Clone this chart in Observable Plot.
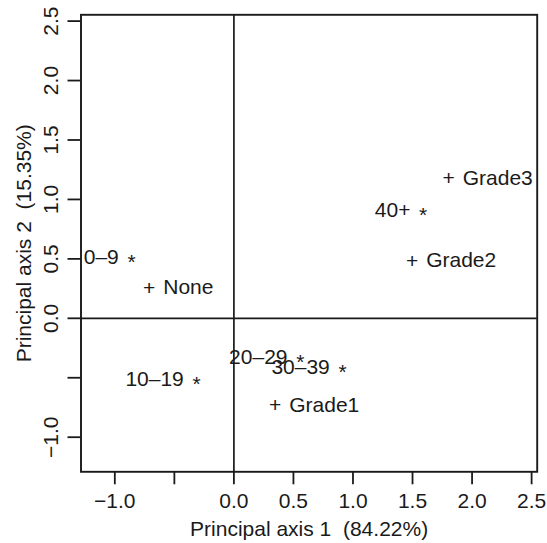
<!DOCTYPE html>
<html>
<head>
<meta charset="utf-8">
<script src="https://cdn.jsdelivr.net/npm/d3@7"></script>
<script src="https://cdn.jsdelivr.net/npm/@observablehq/plot@0.6"></script>
<style>
  html, body { margin: 0; padding: 0; background: #fff; }
  #chart { width: 547px; height: 543px; }
</style>
</head>
<body>
<div id="chart"></div>
<script>
// Row categories (age groups, drawn as "*")
const rowLabels = ["0–9", "10–19", "20–29", "30–39", "40+"];
const rowAxis1 = [-0.860, -0.314, 0.557, 0.912, 1.589];
const rowAxis2 = [0.514, -0.509, -0.327, -0.411, 0.912];

// Column categories (grades, drawn as "+")
const colLabels = ["None", "Grade1", "Grade2", "Grade3"];
const colAxis1 = [-0.711, 0.347, 1.497, 1.804];
const colAxis2 = [0.257, -0.728, 0.486, 1.182];

// Axis ticks and labels
const xTicks = [-1.0, -0.5, 0.0, 0.5, 1.0, 1.5, 2.0, 2.5];
const xTickLabels = ["−1.0", "", "0.0", "0.5", "1.0", "1.5", "2.0", "2.5"];
const yTicks = [-1.0, -0.5, 0.0, 0.5, 1.0, 1.5, 2.0, 2.5];
const yTickLabels = ["−1.0", "", "0.0", "0.5", "1.0", "1.5", "2.0", "2.5"];
const xTitle = "Principal axis 1\u00a0 (84.22%)";
const yTitle = "Principal axis 2\u00a0 (15.35%)";

const rows = rowLabels.map((label, i) => ({label, x: rowAxis1[i], y: rowAxis2[i]}));
const cols = colLabels.map((label, i) => ({label, x: colAxis1[i], y: colAxis2[i]}));
const xT = xTicks.map((v, i) => ({v, t: xTickLabels[i]}));
const yT = yTicks.map((v, i) => ({v, t: yTickLabels[i]}));

const ink = "#1a1a1a";
const fs = 21;

const chart = Plot.plot({
  width: 547,
  height: 543,
  marginLeft: 80.5,
  marginRight: 10.3,
  marginTop: 14.3,
  marginBottom: 71.7,
  style: {fontFamily: "'Liberation Sans', Arial, Helvetica, sans-serif", fontSize: fs + "px", color: ink, background: "#fff"},
  x: {domain: [-1.284, 2.547]},
  y: {domain: [-1.291, 2.553]},
  marks: [
    Plot.ruleX([0], {stroke: ink, strokeWidth: 1.7}),
    Plot.ruleY([0], {stroke: ink, strokeWidth: 1.7}),
    Plot.frame({stroke: ink, strokeWidth: 1.9}),
    Plot.axisX({ticks: xTicks, tickSize: 13, tickFormat: () => "", label: null, strokeWidth: 1.8}),
    Plot.axisY({ticks: yTicks, tickSize: 13, tickFormat: () => "", label: null, strokeWidth: 1.8}),
    Plot.text(xT, {x: "v", text: "t", frameAnchor: "bottom", dy: 35.7, lineAnchor: "bottom", textAnchor: "middle", fontSize: fs, fill: ink}),
    Plot.text(yT, {y: "v", text: "t", frameAnchor: "left", dx: -23.5, rotate: -90, lineAnchor: "bottom", textAnchor: "middle", fontSize: fs, fill: ink}),
    Plot.text([xTitle], {text: d => d, frameAnchor: "bottom", dy: 63.7, lineAnchor: "bottom", textAnchor: "middle", fontSize: fs, fill: ink}),
    Plot.text([yTitle], {text: d => d, frameAnchor: "left", dx: -50.5, rotate: -90, lineAnchor: "bottom", textAnchor: "middle", fontSize: fs, fill: ink}),
    // row points: asterisk with label on the left
    Plot.text(rows, {x: "x", y: "y", text: () => "*", dy: 5, lineAnchor: "middle", textAnchor: "middle", fontSize: fs, fill: ink}),
    Plot.text(rows, {x: "x", y: "y", text: "label", dx: -12.7, lineAnchor: "middle", textAnchor: "end", fontSize: fs, fill: ink}),
    // column points: plus with label on the right
    Plot.text(cols, {x: "x", y: "y", text: () => "+", dy: 0.7, lineAnchor: "middle", textAnchor: "middle", fontSize: fs, fill: ink}),
    Plot.text(cols, {x: "x", y: "y", text: "label", dx: 14, lineAnchor: "middle", textAnchor: "start", fontSize: fs, fill: ink})
  ]
});
document.getElementById("chart").appendChild(chart);
</script>
</body>
</html>
